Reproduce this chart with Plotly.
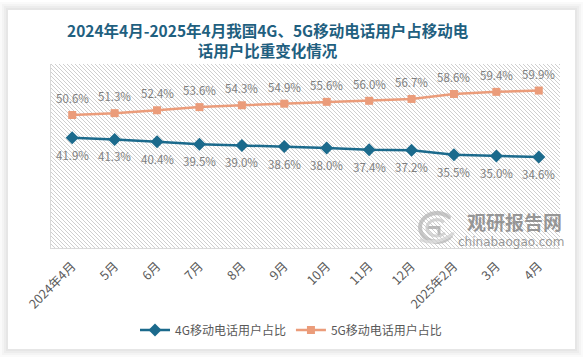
import base64
import plotly.graph_objects as go

categories = ["2024年4月", "5月", "6月", "7月", "8月", "9月", "10月", "11月", "12月", "2025年2月", "3月", "4月"]
share_4g = [41.9, 41.3, 40.4, 39.5, 39.0, 38.6, 38.0, 37.4, 37.2, 35.5, 35.0, 34.6]
share_5g = [50.6, 51.3, 52.4, 53.6, 54.3, 54.9, 55.6, 56.0, 56.7, 58.6, 59.4, 59.9]
series_names = ["4G移动电话用户占比", "5G移动电话用户占比"]
title_text = "2024年4月-2025年4月我国4G、5G移动电话用户占移动电<br>话用户比重变化情况"

W, H = 586, 358
L, R, T, B = 51, 560, 64, 248
PW, PH = R - L, B - T

def px(x):
    return (x - L) / PW

def py(y):
    return (B - y) / PH

C4 = "#1B6A8C"
C5 = "#EB9C7A"
FONT = "Noto Sans CJK SC"

fig = go.Figure()
fig.add_trace(go.Scatter(x=categories, y=share_4g, name=series_names[0], mode="lines+markers",
                         line=dict(color=C4, width=2.5),
                         marker=dict(symbol="diamond", size=10, color=C4)))
fig.add_trace(go.Scatter(x=categories, y=share_5g, name=series_names[1], mode="lines+markers",
                         line=dict(color=C5, width=2.5),
                         marker=dict(symbol="square", size=8, color=C5)))

annotations = []
for c, v in zip(categories, share_4g):
    annotations.append(dict(x=c, y=v, xref="x", yref="y", text=f"{v:.1f}%", showarrow=False,
                            yshift=-17, font=dict(family=FONT, size=11.5, color="#7F7F7F")))
for c, v in zip(categories, share_5g):
    annotations.append(dict(x=c, y=v, xref="x", yref="y", text=f"{v:.1f}%", showarrow=False,
                            yshift=17, font=dict(family=FONT, size=11.5, color="#7F7F7F")))

# title
annotations.append(dict(x=px(268), y=py(40), xref="paper", yref="paper", text=title_text,
                        showarrow=False, xanchor="center", yanchor="middle", align="center",
                        font=dict(family=FONT, size=15.5, color="#1F6080", weight="bold")))
# watermark
annotations.append(dict(x=px(514), y=py(221), xref="paper", yref="paper", text="观研报告网",
                        showarrow=False, xanchor="center", yanchor="middle",
                        font=dict(family=FONT, size=19, color="rgba(120,120,120,0.75)", weight="bold")))
annotations.append(dict(x=px(511), y=py(242), xref="paper", yref="paper", text="chinabaogao.com",
                        showarrow=False, xanchor="center", yanchor="middle",
                        font=dict(family="DejaVu Sans", size=12, color="rgba(120,120,120,0.75)")))

# hatch background
hatch_svg = f'''<svg xmlns="http://www.w3.org/2000/svg" width="{PW}" height="{PH}">
<defs><pattern id="h" patternUnits="userSpaceOnUse" width="4" height="4">
<path d="M-1,-1 L5,5 M-1,3 L1,5 M3,-1 L5,1" stroke="#CFCFCF" stroke-width="1"/></pattern></defs>
<rect width="{PW}" height="{PH}" fill="white"/>
<rect width="{PW}" height="{PH}" fill="url(#h)"/></svg>'''
logo_svg = '''<svg xmlns="http://www.w3.org/2000/svg" width="44" height="36" viewBox="0 0 44 36">
<g fill="none" stroke-linecap="round" opacity="0.75">
<path d="M36,8 A17,14 0 1 0 38,26" stroke="#B5B5B5" stroke-width="4"/>
<path d="M30,12 A10,8 0 1 0 31,24" stroke="#C8C8C8" stroke-width="3"/>
<path d="M16,18 L26,18 L26,24" stroke="#A8A8A8" stroke-width="3"/>
<path d="M8,30 Q22,36 40,24" stroke="#D0D0D0" stroke-width="3"/>
</g></svg>'''

def uri(s):
    return "data:image/svg+xml;base64," + base64.b64encode(s.encode()).decode()

images = [
    dict(source=uri(hatch_svg), xref="paper", yref="paper", x=0, y=1, sizex=1, sizey=1,
         sizing="stretch", layer="below"),
    dict(source=uri(logo_svg), xref="paper", yref="paper", x=px(413), y=py(209), sizex=px(457) - px(413),
         sizey=py(209) - py(246), sizing="stretch", layer="above"),
]

# card shadow rings
cx0, cy0, cx1, cy1 = 8, 10, 575, 349
shapes = []
ring_cols = ["#FAFAFA", "#F4F4F4", "#EDEDED", "#E6E6E6"]
for i, col in enumerate(ring_cols):
    d_out = 8 - 2 * i
    d_in = d_out - 2
    ox0, oy0, ox1, oy1 = cx0 - d_out, cy0 - d_out, cx1 + d_out, cy1 + d_out
    ix0, iy0, ix1, iy1 = cx0 - d_in, cy0 - d_in, cx1 + d_in, cy1 + d_in
    path = (f"M{px(ox0)},{py(oy0)} L{px(ox1)},{py(oy0)} L{px(ox1)},{py(oy1)} L{px(ox0)},{py(oy1)} Z "
            f"M{px(ix0)},{py(iy0)} L{px(ix0)},{py(iy1)} L{px(ix1)},{py(iy1)} L{px(ix1)},{py(iy0)} Z")
    shapes.append(dict(type="path", path=path, xref="paper", yref="paper", fillcolor=col,
                       line=dict(width=0), layer="below"))

fig.update_layout(
    width=W, height=H,
    margin=dict(l=L, r=W - R, t=T, b=H - B, autoexpand=False),
    paper_bgcolor="white", plot_bgcolor="rgba(0,0,0,0)",
    font=dict(family=FONT, color="#595959"),
    showlegend=True,
    legend=dict(orientation="h", x=px(291), y=py(330), xanchor="center", yanchor="middle",
                font=dict(family=FONT, size=12, color="#595959"), bgcolor="rgba(0,0,0,0)"),
    xaxis=dict(type="category", range=[-0.5, len(categories) - 0.5], showline=True, linecolor="#D9D9D9",
               linewidth=1, showgrid=False, ticks="", tickangle=-45, automargin=False,
               ticklabelstandoff=5,
               tickfont=dict(family=FONT, size=12.5, color="#595959")),
    yaxis=dict(range=[0, 70], showline=True, linecolor="#D9D9D9", linewidth=1, showgrid=False,
               zeroline=False, showticklabels=False, ticks="", automargin=False),
    annotations=annotations, images=images, shapes=shapes,
)

fig.write_html("out.html", config={"displayModeBar": False},
               post_script="document.body.style.margin='0';document.body.style.overflow='hidden';")
